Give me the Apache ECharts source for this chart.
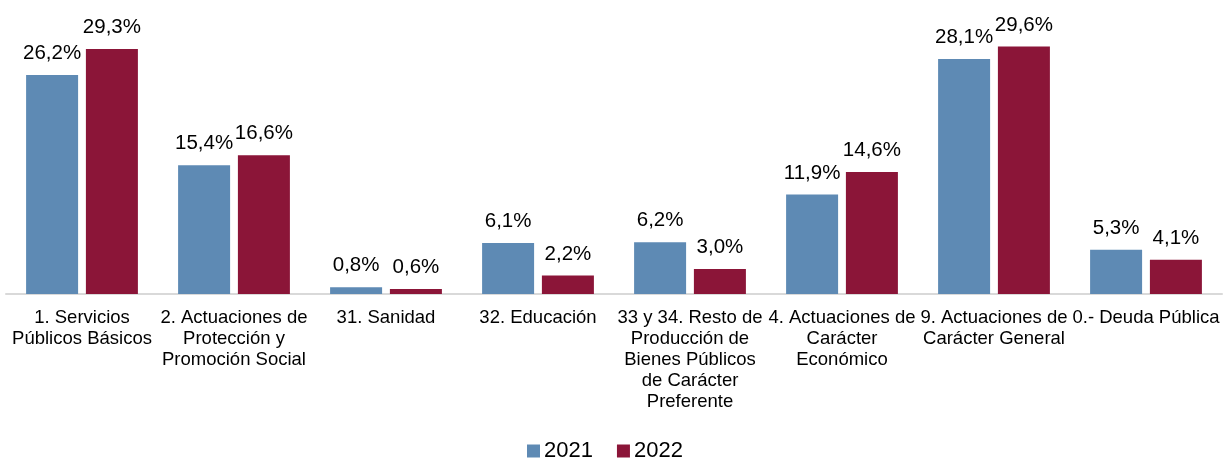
<!DOCTYPE html>
<html>
<head>
<meta charset="utf-8">
<script src="https://cdn.jsdelivr.net/npm/echarts@6/dist/echarts.min.js"></script>
<style>html,body{margin:0;padding:0;background:#fff;}#c{width:1230px;height:458px;}</style>
</head>
<body>
<div id="c"></div>
<script>
const categories = [
  "1. Servicios\nPúblicos Básicos",
  "2. Actuaciones de\nProtección y\nPromoción Social",
  "31. Sanidad",
  "32. Educación",
  "33 y 34. Resto de\nProducción de\nBienes Públicos\nde Carácter\nPreferente",
  "4. Actuaciones de\nCarácter\nEconómico",
  "9. Actuaciones de\nCarácter General",
  "0.- Deuda Pública"
];
const seriesNames = ["2021", "2022"];
const values2021 = [26.2, 15.4, 0.8, 6.1, 6.2, 11.9, 28.1, 5.3];
const values2022 = [29.3, 16.6, 0.6, 2.2, 3.0, 14.6, 29.6, 4.1];

const chart = echarts.init(document.getElementById('c'), null, {renderer: 'canvas'});
const font = 'Arial, "Liberation Sans", sans-serif';
const lbl = {
  show: true, position: 'top', distance: 11,
  fontFamily: font, fontSize: 20.5, color: '#000',
  formatter: p => p.value.toFixed(1).replace('.', ',') + '%'
};
chart.setOption({
  animation: false,
  grid: {left: 6, right: 8, top: 43.2, bottom: 164, containLabel: false},
  legend: {
    top: 440, left: 527, padding: 0,
    itemWidth: 13, itemHeight: 13, itemGap: 24,
    textStyle: {fontFamily: font, fontSize: 22, color: '#000', padding: [0, 0, 0, -1]},
    icon: 'rect',
    data: seriesNames
  },
  xAxis: {
    type: 'category', data: categories,
    axisLine: {lineStyle: {color: '#d9d9d9', width: 2}},
    axisTick: {show: false},
    axisLabel: {interval: 0, fontFamily: font, fontSize: 18.5, color: '#000', lineHeight: 21, margin: 13}
  },
  yAxis: {type: 'value', min: 0, max: 30, show: false, splitLine: {show: false}},
  series: [
    {name: seriesNames[0], type: 'bar', data: values2021, barWidth: 52, barGap: '15%',
     itemStyle: {color: '#5e8ab4'}, label: lbl},
    {name: seriesNames[1], type: 'bar', data: values2022, barWidth: 52,
     itemStyle: {color: '#8b1538'}, label: lbl}
  ]
});
</script>
</body>
</html>
